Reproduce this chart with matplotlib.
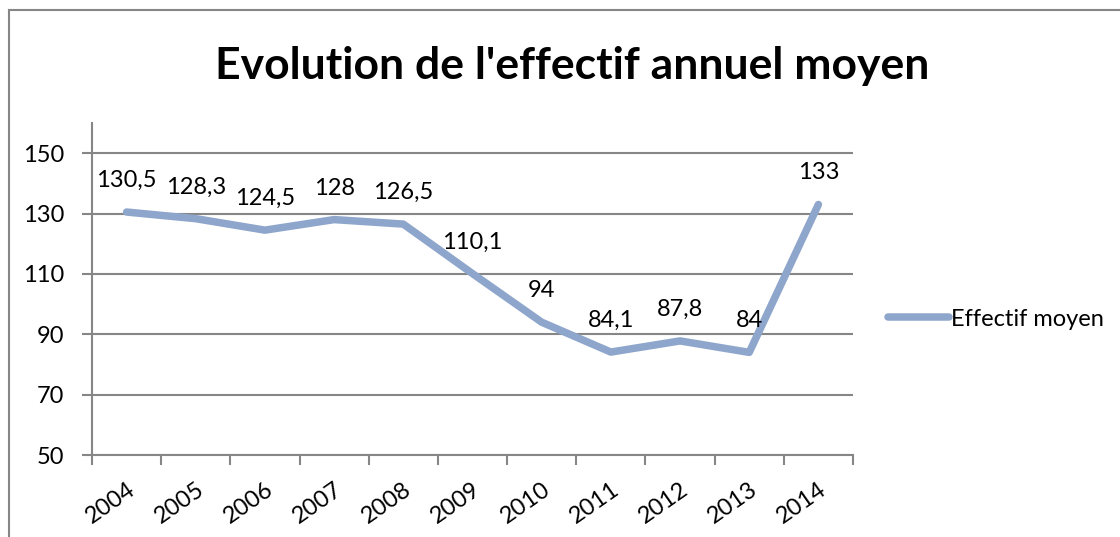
import matplotlib.pyplot as plt
from matplotlib.lines import Line2D
import numpy as np

years = ['2004', '2005', '2006', '2007', '2008', '2009', '2010', '2011', '2012', '2013', '2014']
effectif = [130.5, 128.3, 124.5, 128, 126.5, 110.1, 94, 84.1, 87.8, 84, 133]
labels = ['130,5', '128,3', '124,5', '128', '126,5', '110,1', '94', '84,1', '87,8', '84', '133']

plt.rcParams['font.family'] = ['Lato', 'DejaVu Sans']
grey = '#868686'
blue = '#8EA6CB'

fig = plt.figure(figsize=(11.2, 5.37), dpi=100)
ax = fig.add_axes([92 / 1120, 1 - 455 / 537, (853 - 92) / 1120, (455 - 123) / 537])

x = np.arange(len(years))
ax.plot(x, effectif, color=blue, lw=5.4, solid_capstyle='round', solid_joinstyle='round',
        label='Effectif moyen', zorder=3)
for xi, yi, lab in zip(x, effectif, labels):
    ax.annotate(lab, (xi, yi), xytext=(0, 25), textcoords='offset pixels',
                ha='center', va='baseline', fontsize=17, color='black')

ax.set_xlim(-0.5, len(years) - 0.5)
ax.set_ylim(50, 160)
ax.set_yticks(range(50, 151, 20))
ax.set_xticks(x)
ax.set_xticklabels(years, rotation=35, ha='right', rotation_mode='anchor', fontsize=17)
ax.set_xticks(np.arange(-0.5, len(years)), minor=True)
ax.tick_params(axis='x', which='major', length=0, pad=17)
ax.tick_params(axis='x', which='minor', length=7, width=1.5, color=grey, direction='out')
ax.tick_params(axis='y', length=7, width=1.5, color=grey, direction='out', labelsize=17, pad=13)
ax.yaxis.grid(True, color=grey, lw=1.5)
ax.set_axisbelow(True)
for s in ['top', 'right']:
    ax.spines[s].set_visible(False)
for s in ['left', 'bottom']:
    ax.spines[s].set_color(grey)
    ax.spines[s].set_linewidth(1.5)

fig.text(572 / 1120, 1 - 66 / 537, "Evolution de l'effectif annuel moyen", ha='center', va='center',
         fontsize=32, fontweight='bold')

fig.legend(loc='center left', bbox_to_anchor=(888 / 1120, 1 - 319 / 537), frameon=False,
           fontsize=17, handlelength=2.6, handletextpad=0.05, borderpad=0, borderaxespad=0)

# chart border
fig.add_artist(Line2D([9 / 1120, 9 / 1120], [0, 1 - 10 / 537], color=grey, lw=1.5))
fig.add_artist(Line2D([9 / 1120, 1], [1 - 10 / 537, 1 - 10 / 537], color=grey, lw=1.5))

fig.savefig('out.png', dpi=100)
